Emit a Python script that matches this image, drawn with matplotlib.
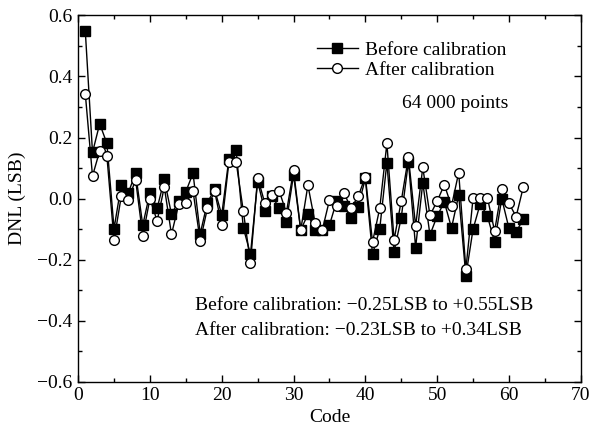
import matplotlib
matplotlib.use("Agg")
import matplotlib.pyplot as plt
from matplotlib.ticker import MultipleLocator

codes = list(range(1, 63))
before = [0.547, 0.151, 0.245, 0.181, -0.098, 0.044, 0.020, 0.083, -0.087, 0.020,
          -0.032, 0.063, -0.051, -0.008, 0.023, 0.083, -0.115, -0.013, 0.030, -0.053,
          0.131, 0.159, -0.095, -0.182, 0.056, -0.040, 0.010, -0.032, -0.076, 0.078,
          -0.103, -0.051, -0.103, -0.103, -0.087, -0.008, -0.024, -0.064, -0.026, 0.066,
          -0.182, -0.100, 0.118, -0.174, -0.062, 0.121, -0.160, 0.052, -0.119, -0.057,
          -0.011, -0.096, 0.011, -0.253, -0.100, -0.017, -0.057, -0.142, 0.000, -0.097,
          -0.108, -0.068]
after = [0.342, 0.074, 0.156, 0.140, -0.136, 0.007, -0.004, 0.062, -0.122, 0.000,
         -0.073, 0.038, -0.117, -0.019, -0.015, 0.025, -0.139, -0.032, 0.025, -0.087,
         0.120, 0.121, -0.040, -0.210, 0.069, -0.015, 0.011, 0.025, -0.046, 0.093,
         -0.103, 0.044, -0.079, -0.103, -0.005, -0.024, 0.020, -0.032, 0.007, 0.072,
         -0.142, -0.032, 0.181, -0.135, -0.008, 0.136, -0.090, 0.102, -0.055, -0.008,
         0.045, -0.024, 0.085, -0.231, 0.001, 0.003, 0.003, -0.106, 0.031, -0.015,
         -0.059, 0.038]

plt.rcParams['font.family'] = ['Liberation Serif', 'DejaVu Serif']
FS = 14

fig = plt.figure(figsize=(5.92, 4.37), dpi=100)
ax = fig.add_axes([0.132, 0.126, 0.849, 0.839])

ax.plot(codes, before, '-', color='black', lw=1.0, marker='s', ms=6.5,
        mfc='black', mec='black', label='Before calibration', zorder=3)
ax.plot(codes, after, '-', color='black', lw=1.0, marker='o', ms=7,
        mfc='white', mec='black', mew=1.0, label='After calibration', zorder=4)

ax.set_xlim(0, 70)
ax.set_ylim(-0.6, 0.6)
ax.xaxis.set_major_locator(MultipleLocator(10))
ax.xaxis.set_minor_locator(MultipleLocator(5))
ax.yaxis.set_major_locator(MultipleLocator(0.2))
ax.yaxis.set_minor_locator(MultipleLocator(0.1))
ax.tick_params(which='both', direction='in', top=True, right=True, labelsize=FS)
ax.tick_params(axis='x', pad=4)
ax.tick_params(axis='y', pad=4)
ax.tick_params(which='major', length=5, width=1)
ax.tick_params(which='minor', length=3, width=1)
ax.set_yticks([-0.6, -0.4, -0.2, 0.0, 0.2, 0.4, 0.6])
ax.set_yticklabels(['\u22120.6', '\u22120.4', '\u22120.2', '0.0', '0.2', '0.4', '0.6'])
for s in ax.spines.values():
    s.set_linewidth(1.0)

ax.set_xlabel('Code', fontsize=FS, labelpad=3)
ax.set_ylabel('DNL (LSB)', fontsize=FS, labelpad=8)

leg = ax.legend(loc='upper left', bbox_to_anchor=(0.475, 0.93), frameon=False,
                fontsize=FS, handlelength=2.1, handletextpad=0.4,
                borderpad=0, borderaxespad=0, labelspacing=0.15)

ax.text(52.5, 0.31, '64 000 points', fontsize=FS, ha='center', va='center')
ax.text(16.3, -0.349, 'Before calibration: \u22120.25LSB to +0.55LSB', fontsize=FS,
        ha='left', va='center')
ax.text(16.3, -0.433, 'After calibration: \u22120.23LSB to +0.34LSB', fontsize=FS,
        ha='left', va='center')

fig.savefig('out.png', dpi=100)
